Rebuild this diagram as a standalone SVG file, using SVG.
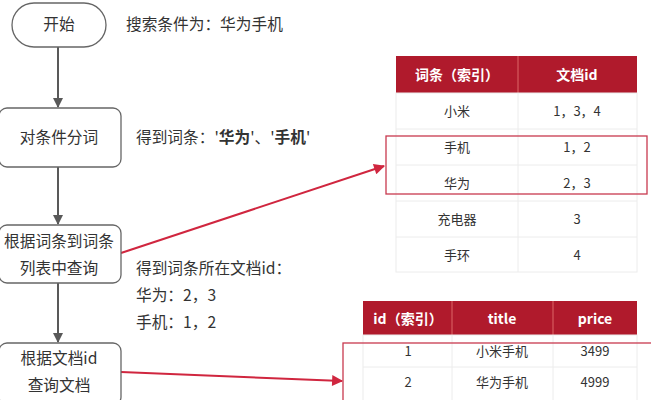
<svg xmlns="http://www.w3.org/2000/svg" width="651" height="400" viewBox="0 0 651 400">
<defs>
<style>
.node{fill:#fff;stroke:#666;stroke-width:1.3}
.t{font-family:"Noto Sans CJK SC","Noto Sans",sans-serif;fill:#333;font-size:15.7px}
.c{text-anchor:middle}
.tt{font-family:"Noto Sans CJK SC","Noto Sans",sans-serif;fill:#333;font-size:13px;text-anchor:middle}
.th{font-family:"Noto Sans CJK SC","Noto Sans",sans-serif;fill:#fff;font-size:14px;font-weight:bold;text-anchor:middle}
.hdr{fill:#b01a2c}
.grid{stroke:#ececec;stroke-width:1;fill:none}
.flow{stroke:#595959;stroke-width:2;fill:none}
.red{stroke:#d0263f;stroke-width:2;fill:none}
.hl{stroke:#c8394f;stroke-width:1.3;fill:none}
</style>
<marker id="ag" viewBox="0 0 10 10" refX="9" refY="5" markerWidth="5" markerHeight="5" orient="auto" markerUnits="strokeWidth"><path d="M0,0 L10,5 L0,10 z" fill="#595959"/></marker>
<marker id="ar" viewBox="0 0 10 10" refX="9" refY="5" markerWidth="6.5" markerHeight="5.5" orient="auto" markerUnits="strokeWidth"><path d="M0,0 L10,5 L0,10 z" fill="#d0263f"/></marker>
</defs>
<rect width="651" height="400" fill="#fff"/>

<g id="connectors">
<line class="flow" x1="58" y1="47" x2="58" y2="107" marker-end="url(#ag)"/>
<line class="flow" x1="58" y1="167" x2="58" y2="224" marker-end="url(#ag)"/>
<line class="flow" x1="58" y1="283" x2="58" y2="342" marker-end="url(#ag)"/>
<line class="red" x1="121" y1="253" x2="384" y2="166" marker-end="url(#ar)"/>
<line class="red" x1="121" y1="372" x2="342" y2="381" marker-end="url(#ar)"/>
</g>

<g id="start">
<rect class="node" x="12" y="3" width="94" height="44" rx="22"/>
<text class="t c" x="59" y="30" font-size="16">开始</text>
</g>
<g id="split">
<rect class="node" x="-1" y="108" width="122" height="59" rx="8"/>
<text class="t c" x="59" y="143" font-size="16">对条件分词</text>
</g>
<g id="lookup">
<rect class="node" x="-1" y="225" width="122" height="58" rx="8"/>
<text class="t c" x="59" y="247" font-size="16">根据词条到词条</text>
<text class="t c" x="59" y="274" font-size="16">列表中查询</text>
</g>
<g id="query">
<rect class="node" x="-1" y="343" width="122" height="62" rx="8"/>
<text class="t c" x="59" y="364" font-size="16">根据文档id</text>
<text class="t c" x="59" y="391" font-size="16">查询文档</text>
</g>

<g id="notes">
<text class="t" x="126" y="30">搜索条件为：华为手机</text>
<text class="t" x="136" y="143">得到词条：'<tspan font-weight="bold">华为</tspan>'、'<tspan font-weight="bold">手机</tspan>'</text>
<text class="t" x="136" y="274">得到词条所在文档id：</text>
<text class="t" x="136" y="301">华为：2，3</text>
<text class="t" x="136" y="328">手机：1，2</text>
</g>

<g id="term-table">
<rect class="hdr" x="396" y="56" width="241" height="37"/>
<line x1="518" y1="56" x2="518" y2="93" stroke="#d66" stroke-width="1"/>
<text class="th" x="457" y="80">词条（索引）</text>
<text class="th" x="577" y="80">文档id</text>
<rect class="grid" x="396" y="93" width="241" height="179"/>
<line class="grid" x1="518" y1="93" x2="518" y2="272"/>
<line class="grid" x1="396" y1="129" x2="637" y2="129"/>
<line class="grid" x1="396" y1="165" x2="637" y2="165"/>
<line class="grid" x1="396" y1="201" x2="637" y2="201"/>
<line class="grid" x1="396" y1="237" x2="637" y2="237"/>
<text class="tt" x="457" y="116">小米</text><text class="tt" x="577" y="116">1，3，4</text>
<text class="tt" x="457" y="152">手机</text><text class="tt" x="577" y="152">1，2</text>
<text class="tt" x="457" y="188">华为</text><text class="tt" x="577" y="188">2，3</text>
<text class="tt" x="457" y="224">充电器</text><text class="tt" x="577" y="224">3</text>
<text class="tt" x="457" y="260">手环</text><text class="tt" x="577" y="260">4</text>
<rect class="hl" x="386" y="136" width="261" height="58"/>
</g>

<g id="doc-table">
<rect class="hdr" x="363" y="301" width="274" height="34"/>
<line x1="452" y1="301" x2="452" y2="335" stroke="#d66" stroke-width="1"/>
<line x1="553" y1="301" x2="553" y2="335" stroke="#d66" stroke-width="1"/>
<text class="th" x="408" y="324">id（索引）</text>
<text class="th" x="502" y="324">title</text>
<text class="th" x="595" y="324">price</text>
<rect class="grid" x="363" y="335" width="274" height="70"/>
<line class="grid" x1="452" y1="335" x2="452" y2="400"/>
<line class="grid" x1="553" y1="335" x2="553" y2="400"/>
<line class="grid" x1="363" y1="367" x2="637" y2="367"/>
<text class="tt" x="408" y="356">1</text><text class="tt" x="502" y="356">小米手机</text><text class="tt" x="595" y="356">3499</text>
<text class="tt" x="408" y="387">2</text><text class="tt" x="502" y="387">华为手机</text><text class="tt" x="595" y="387">4999</text>
<rect class="hl" x="343" y="343" width="320" height="70"/>
</g>
</svg>
